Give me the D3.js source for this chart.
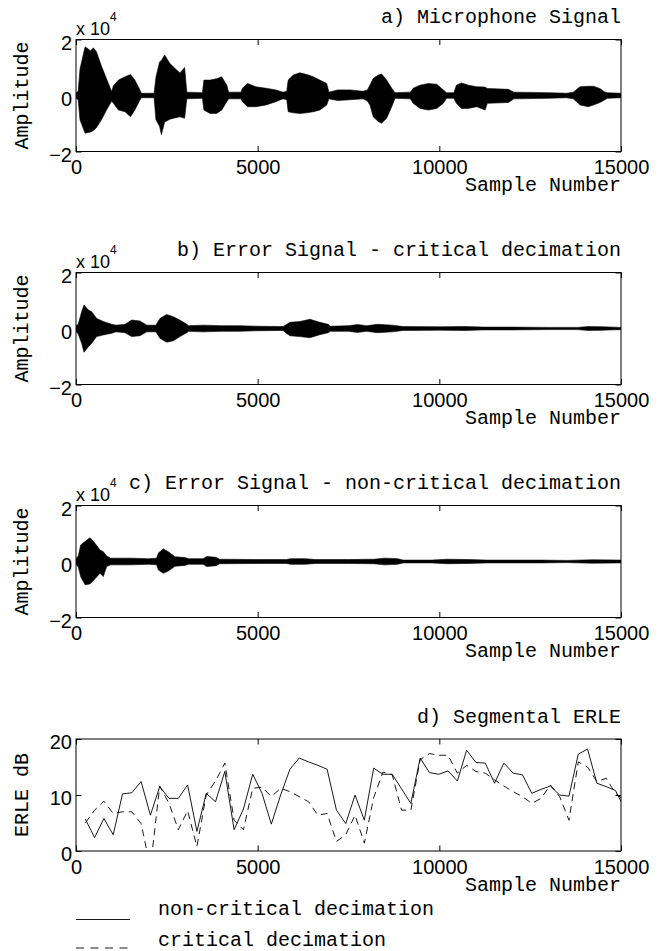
<!DOCTYPE html>
<html>
<head>
<meta charset="utf-8">
<script src="https://cdn.jsdelivr.net/npm/d3@7"></script>
<style>
body { margin: 0; background: #fff; }
</style>
</head>
<body>
<div id="chart"></div>
<script>
// ticks
var xTicks = [0, 5000, 10000, 15000];
var ampTicks = [-2, 0, 2];
var erleTicks = [0, 10, 20];

// envelope of the microphone signal (x 10^4)
var micSamples = [0, 60, 110, 250, 400, 480, 560, 700, 840, 980, 1030, 1170, 1350, 1500, 1620, 1760, 1800, 2150, 2200, 2300, 2350, 2440, 2580, 2720, 2860, 2990, 3050, 3480, 3520, 3690, 3870, 4010, 4150, 4200, 4540, 4580, 4720, 4950, 5230, 5500, 5700, 5800, 5840, 5980, 6160, 6350, 6530, 6710, 6900, 6960, 7200, 7550, 7900, 8020, 8090, 8180, 8320, 8410, 8550, 8690, 8780, 9200, 9280, 9470, 9700, 9930, 10110, 10200, 10400, 10470, 10610, 10800, 11030, 11260, 11320, 11900, 12050, 13000, 13500, 13690, 13870, 14100, 14240, 14420, 14560, 14620, 15000];
var micUpper = [0.1, 0.15, 0.95, 1.74, 1.6, 1.7, 1.57, 1.05, 0.6, 0.14, 0.35, 0.55, 0.67, 0.75, 0.55, 0.2, 0.08, 0.08, 0.65, 1.2, 1.25, 1.45, 1.15, 0.97, 0.8, 1.0, 0.12, 0.1, 0.55, 0.55, 0.6, 0.67, 0.37, 0.12, 0.12, 0.26, 0.43, 0.31, 0.26, 0.2, 0.12, 0.15, 0.55, 0.73, 0.81, 0.75, 0.67, 0.55, 0.43, 0.12, 0.2, 0.2, 0.15, 0.2, 0.37, 0.61, 0.73, 0.77, 0.55, 0.26, 0.1, 0.12, 0.26, 0.37, 0.43, 0.4, 0.2, 0.1, 0.1, 0.37, 0.45, 0.37, 0.31, 0.3, 0.25, 0.22, 0.12, 0.1, 0.08, 0.12, 0.31, 0.33, 0.33, 0.25, 0.12, 0.1, 0.08];
var micLower = [-0.1, -0.15, -0.87, -1.35, -1.3, -1.25, -1.15, -0.87, -0.52, -0.2, -0.28, -0.52, -0.58, -0.76, -0.52, -0.16, -0.08, -0.08, -0.87, -1.1, -1.4, -0.95, -0.85, -0.8, -0.76, -0.81, -0.12, -0.1, -0.52, -0.64, -0.64, -0.52, -0.22, -0.12, -0.12, -0.22, -0.4, -0.4, -0.34, -0.22, -0.12, -0.15, -0.58, -0.62, -0.64, -0.62, -0.58, -0.52, -0.34, -0.12, -0.18, -0.15, -0.12, -0.2, -0.34, -0.76, -0.93, -0.99, -0.81, -0.4, -0.1, -0.12, -0.28, -0.46, -0.52, -0.46, -0.28, -0.1, -0.1, -0.28, -0.46, -0.46, -0.4, -0.52, -0.28, -0.25, -0.12, -0.1, -0.08, -0.12, -0.34, -0.4, -0.34, -0.25, -0.15, -0.1, -0.08];

// envelope of the error signal, critical decimation
var critSamples = [0, 60, 156, 220, 340, 431, 569, 752, 981, 1100, 1350, 1530, 1760, 1950, 2200, 2310, 2495, 2680, 2860, 3050, 3100, 3500, 4000, 4500, 5000, 5700, 5800, 5890, 6160, 6440, 6710, 6940, 7000, 7500, 7750, 8000, 8300, 8700, 9000, 10000, 10700, 11200, 12000, 13000, 13800, 14100, 14500, 15000];
var critUpper = [0.1, 0.15, 0.6, 0.84, 0.66, 0.6, 0.36, 0.25, 0.15, 0.12, 0.15, 0.3, 0.27, 0.12, 0.12, 0.36, 0.5, 0.42, 0.3, 0.15, 0.1, 0.12, 0.1, 0.1, 0.08, 0.07, 0.15, 0.22, 0.25, 0.33, 0.22, 0.15, 0.08, 0.1, 0.14, 0.1, 0.15, 0.12, 0.07, 0.06, 0.07, 0.05, 0.05, 0.04, 0.04, 0.07, 0.06, 0.04];
var critLower = [-0.1, -0.2, -0.53, -0.85, -0.65, -0.53, -0.29, -0.23, -0.17, -0.12, -0.15, -0.29, -0.26, -0.12, -0.12, -0.35, -0.49, -0.44, -0.29, -0.15, -0.1, -0.12, -0.1, -0.1, -0.08, -0.07, -0.18, -0.26, -0.29, -0.33, -0.22, -0.15, -0.1, -0.1, -0.14, -0.1, -0.15, -0.12, -0.07, -0.06, -0.07, -0.05, -0.05, -0.04, -0.04, -0.07, -0.06, -0.04];

// envelope of the error signal, non-critical decimation
var nonCritSamples = [0, 64, 128, 248, 385, 523, 660, 752, 844, 950, 1500, 2000, 2220, 2266, 2403, 2541, 2724, 3000, 3100, 3500, 3600, 3850, 3950, 5000, 5800, 5900, 6300, 6600, 7500, 8200, 8500, 8850, 9000, 9800, 10200, 10800, 11300, 12800, 13500, 14200, 15000];
var nonCritUpper = [0.1, 0.2, 0.59, 0.71, 0.85, 0.65, 0.41, 0.35, 0.2, 0.12, 0.12, 0.1, 0.12, 0.3, 0.45, 0.35, 0.17, 0.14, 0.1, 0.1, 0.18, 0.15, 0.08, 0.07, 0.07, 0.1, 0.1, 0.07, 0.07, 0.08, 0.12, 0.1, 0.05, 0.05, 0.08, 0.07, 0.05, 0.05, 0.04, 0.06, 0.05];
var nonCritLower = [-0.1, -0.2, -0.54, -0.83, -0.8, -0.62, -0.42, -0.54, -0.18, -0.12, -0.12, -0.1, -0.12, -0.3, -0.42, -0.34, -0.17, -0.14, -0.1, -0.1, -0.18, -0.15, -0.08, -0.07, -0.07, -0.1, -0.1, -0.07, -0.07, -0.08, -0.12, -0.1, -0.05, -0.05, -0.08, -0.07, -0.05, -0.05, -0.04, -0.06, -0.05];

// segmental ERLE in dB, one value per 256-sample segment
var segLength = 256;
var erleNonCritical = [5.7, 2.4, 5.8, 2.9, 10.2, 10.4, 12.4, 6.4, 11.5, 9.4, 9.4, 11.8, 3.5, 10.3, 8.8, 14.2, 3.8, 7.5, 13.7, 10.3, 4.8, 10.0, 14.6, 16.6, 15.9, 15.3, 14.6, 7.3, 4.9, 10.0, 5.5, 14.8, 13.7, 13.7, 11.1, 8.5, 16.6, 14.0, 13.7, 14.3, 12.5, 18.0, 15.8, 15.7, 12.1, 15.7, 13.9, 13.6, 10.3, 11.0, 11.6, 10.0, 9.8, 17.3, 18.2, 12.1, 11.5, 10.8, 7.5];
var erleCritical = [5.0, 7.3, 8.9, 6.7, 7.0, 7.0, 4.9, -3.0, 11.6, 8.5, 3.8, 7.2, 0.8, 10.0, 12.5, 15.7, 5.5, 3.8, 11.2, 11.4, 9.7, 11.2, 10.6, 9.7, 8.8, 6.4, 6.7, 1.7, 2.9, 6.4, 1.4, 9.5, 14.1, 13.6, 7.3, 7.3, 16.3, 17.4, 17.1, 17.1, 13.9, 15.3, 14.2, 13.9, 12.7, 11.6, 10.6, 9.7, 8.5, 9.4, 11.8, 9.7, 5.5, 15.9, 15.0, 12.4, 13.0, 10.3, 9.0];

var panelTitles = ["a) Microphone Signal", "b) Error Signal - critical decimation", "c) Error Signal - non-critical decimation", "d) Segmental ERLE"];
var legendLabels = ["non-critical decimation", "critical decimation"];

var width = 665;
var height = 951;
var plotLeft = 76;
var plotW = 545;
var plotH = 112;
var panelTops = [39.5, 272.5, 505.5, 739];
var tickLen = 5.5;

var monoFont = "'Courier New', 'Liberation Mono', monospace";
var sansFont = "Arial, 'Liberation Sans', Helvetica, sans-serif";

var svg = d3.select("#chart").append("svg")
	.attr("width", width)
	.attr("height", height)
	.style("background", "#fff");

var x = d3.scaleLinear().domain([0, 15000]).range([0, plotW]);

function zipEnvelope(samples, upper, lower) {
	return samples.map(function(s, i) { return {s: s, hi: upper[i], lo: lower[i]}; });
}

function drawFrame(g, y, yTicks, yLabel, idx) {
	// axes with inward ticks, matlab style box
	var fmt = function(d) { return d < 0 ? "\u2212" + Math.abs(d) : "" + d; };

	var bottom = g.append("g")
		.attr("transform", "translate(0," + plotH + ")")
		.call(d3.axisBottom(x).tickValues(xTicks).tickSizeInner(-tickLen).tickSizeOuter(0).tickPadding(8.3).tickFormat(d3.format("d")));
	bottom.selectAll("text").attr("font-family", sansFont).attr("font-size", 20).attr("fill", "#000");

	var top = g.append("g")
		.call(d3.axisTop(x).tickValues(xTicks).tickSizeInner(-tickLen).tickSizeOuter(0).tickFormat(""));

	var leftAx = g.append("g")
		.call(d3.axisLeft(y).tickValues(yTicks).tickSizeInner(-tickLen).tickSizeOuter(0).tickPadding(4).tickFormat(fmt));
	leftAx.selectAll("text").attr("font-family", sansFont).attr("font-size", 20).attr("fill", "#000").attr("dy", "0.48em");

	var rightAx = g.append("g")
		.attr("transform", "translate(" + plotW + ",0)")
		.call(d3.axisRight(y).tickValues(yTicks).tickSizeInner(-tickLen).tickSizeOuter(0).tickFormat(""));

	[bottom, top, leftAx, rightAx].forEach(function(a) {
		a.select(".domain").remove();
		a.selectAll("line").attr("stroke", "#000");
	});

	g.append("rect")
		.attr("x", 0).attr("y", 0)
		.attr("width", plotW).attr("height", plotH)
		.attr("fill", "none")
		.attr("stroke", "#000")
		.attr("stroke-width", 1);

	g.append("text")
		.attr("x", plotW).attr("y", -16.5)
		.attr("text-anchor", "end")
		.attr("font-family", monoFont).attr("font-size", 20)
		.text(panelTitles[idx]);

	g.append("text")
		.attr("x", plotW).attr("y", plotH + 39.5)
		.attr("text-anchor", "end")
		.attr("font-family", monoFont).attr("font-size", 20)
		.text("Sample Number");

	g.append("text")
		.attr("transform", "translate(" + (28 - plotLeft) + "," + (plotH / 2) + ") rotate(-90)")
		.attr("text-anchor", "middle")
		.attr("font-family", monoFont).attr("font-size", 20)
		.text(yLabel);
}

function drawSignal(idx, env) {
	var g = svg.append("g")
		.attr("transform", "translate(" + plotLeft + "," + panelTops[idx] + ")");

	var y = d3.scaleLinear().domain([-2, 2]).range([plotH, 0]);

	g.append("clipPath").attr("id", "clip" + idx)
		.append("rect").attr("width", plotW).attr("height", plotH);

	var area = d3.area()
		.x(function(d) { return x(d.s); })
		.y0(function(d) { return y(d.lo); })
		.y1(function(d) { return y(d.hi); });

	g.append("path")
		.datum(env)
		.attr("clip-path", "url(#clip" + idx + ")")
		.attr("d", area)
		.attr("fill", "#000")
		.attr("stroke", "#000")
		.attr("stroke-width", 0.6);

	drawFrame(g, y, ampTicks, "Amplitude", idx);

	// exponent label
	var ex = g.append("text")
		.attr("x", 0).attr("y", -5)
		.attr("font-family", sansFont);
	ex.append("tspan").attr("font-size", 18).text("x 10");
	ex.append("tspan").attr("font-size", 12).attr("dy", -13.5).text("4");
}

function drawErle(idx) {
	var g = svg.append("g")
		.attr("transform", "translate(" + plotLeft + "," + panelTops[idx] + ")");

	var y = d3.scaleLinear().domain([0, 20]).range([plotH, 0]);

	g.append("clipPath").attr("id", "clip" + idx)
		.append("rect").attr("width", plotW).attr("height", plotH);

	var line = d3.line()
		.x(function(d, i) { return x((i + 1) * segLength); })
		.y(function(d) { return y(d); });

	g.append("path")
		.datum(erleCritical)
		.attr("clip-path", "url(#clip" + idx + ")")
		.attr("d", line)
		.attr("fill", "none")
		.attr("stroke", "#000")
		.attr("stroke-width", 0.9)
		.attr("stroke-dasharray", "7,5");

	g.append("path")
		.datum(erleNonCritical)
		.attr("clip-path", "url(#clip" + idx + ")")
		.attr("d", line)
		.attr("fill", "none")
		.attr("stroke", "#000")
		.attr("stroke-width", 0.9);

	drawFrame(g, y, erleTicks, "ERLE dB", idx);
}

drawSignal(0, zipEnvelope(micSamples, micUpper, micLower));
drawSignal(1, zipEnvelope(critSamples, critUpper, critLower));
drawSignal(2, zipEnvelope(nonCritSamples, nonCritUpper, nonCritLower));
drawErle(3);

// legend
var legend = svg.append("g");
var legendRows = [{y: 919.5, ty: 915, dash: null}, {y: 948, ty: 946, dash: "8,6.5"}];
legendRows.forEach(function(r, i) {
	legend.append("line")
		.attr("x1", 76).attr("x2", 130)
		.attr("y1", r.y).attr("y2", r.y)
		.attr("stroke", "#000")
		.attr("stroke-width", 0.9)
		.attr("stroke-dasharray", r.dash);
	legend.append("text")
		.attr("x", 158).attr("y", r.ty)
		.attr("font-family", monoFont).attr("font-size", 20)
		.text(legendLabels[i]);
});
</script>
</body>
</html>
